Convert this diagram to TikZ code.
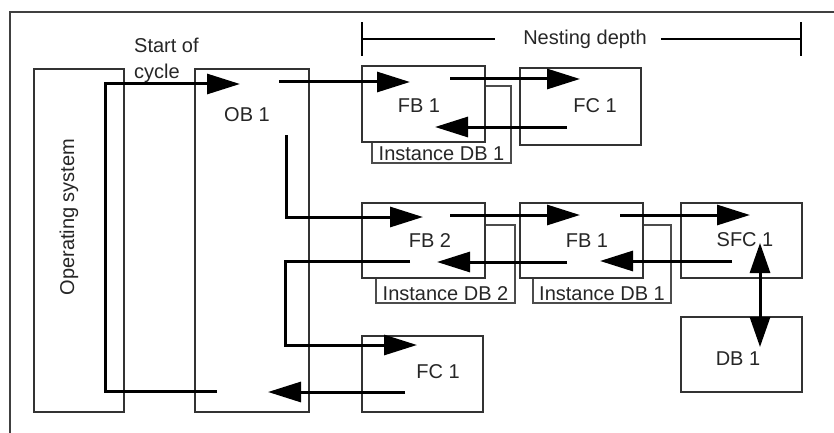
\documentclass[tikz,border=0pt]{standalone}
\usepackage{fontspec}
\setmainfont{Liberation Sans}
\usetikzlibrary{arrows.meta,positioning}

\begin{document}
\begin{tikzpicture}[x=1pt,y=-1pt,
    blk/.style={draw=black!80, line width=1.4pt, fill=white, inner sep=0pt},
    inst/.style={draw=black!70, line width=1.4pt, fill=white, inner sep=0pt},
    lbl/.style={font=\fontsize{20}{26}\selectfont, text=black!85, inner sep=0pt},
    flow/.style={line width=3pt, line join=miter, -{Triangle[length=33pt,width=20pt]}},
    dbl/.style={line width=3pt, {Triangle[length=30pt,width=20pt]}-{Triangle[length=30pt,width=20pt]}},
    depth/.style={line width=2pt}]
    \useasboundingbox (0,0) rectangle (834,433);
    % frame
    \draw[line width=1.5pt, black!75] (834,12) -- (10,12) -- (10,433);
    % blocks
    \node[blk, minimum width=90pt, minimum height=343pt] (os) at (79,240.5) {};
    \node[blk, minimum width=114pt, minimum height=343pt] (ob1) at (252,240.5) {};
    \node[inst, minimum width=139pt, minimum height=77pt] (idba) at (441.5,124.5) {};
    \node[blk, minimum width=123pt, minimum height=76pt] (fb1a) at (423.5,104) {};
    \node[blk, minimum width=121pt, minimum height=77pt] (fc1a) at (580.5,106.5) {};
    \node[inst, minimum width=139pt, minimum height=78pt] (idbb) at (445.5,264) {};
    \node[blk, minimum width=123pt, minimum height=75pt] (fb2) at (423.5,240.5) {};
    \node[inst, minimum width=138pt, minimum height=78pt] (idbc) at (602,264) {};
    \node[blk, minimum width=123pt, minimum height=75pt] (fb1b) at (581.5,240.5) {};
    \node[blk, minimum width=121pt, minimum height=75pt] (sfc1) at (741.5,240.5) {};
    \node[blk, minimum width=121pt, minimum height=75pt] (db1) at (741.5,354.5) {};
    \node[blk, minimum width=121pt, minimum height=76pt] (fc1b) at (422.5,374) {};
    % texts
    \node[lbl, rotate=90] (ostxt) at (69,217) {Operating system};
    \node[lbl, align=left, anchor=north west] (start) at (134,38) {Start of\\cycle};
    \node[lbl] (ob1txt) at (247,115) {OB 1};
    \node[lbl] (fb1atxt) at (419,106) {FB 1};
    \node[lbl] (fc1atxt) at (595,106) {FC 1};
    \node[lbl] (fb2txt) at (430,241) {FB 2};
    \node[lbl] (fb1btxt) at (587,241) {FB 1};
    \node[lbl] (sfc1txt) at (745,240) {SFC 1};
    \node[lbl] (db1txt) at (738,359) {DB 1};
    \node[lbl] (fc1btxt) at (438,372) {FC 1};
    \node[lbl, anchor=south, inner sep=3pt] (idbatxt) at (idba.south) {Instance DB 1};
    \node[lbl, anchor=south, inner sep=3pt] (idbbtxt) at (idbb.south) {Instance DB 2};
    \node[lbl, anchor=south, inner sep=3pt] (idbctxt) at (idbc.south) {Instance DB 1};
    % nesting depth
    \coordinate (ndl) at (362,39);
    \coordinate (ndr) at (801,39);
    \node[lbl] (nd) at (585,39) {Nesting depth};
    \draw[depth] ([yshift=-17pt]ndl) -- ([yshift=17pt]ndl);
    \draw[depth] ([yshift=-17pt]ndr) -- ([yshift=17pt]ndr);
    \draw[depth] (ndl) -- ([xshift=-28pt]nd.west);
    \draw[depth] ([xshift=14pt]nd.east) -- (ndr);
    % flow points
    \coordinate (cyc0) at (217,391);
    \coordinate (cyc1) at (105,391);
    \coordinate (cyc2) at (105,84);
    \coordinate (cyc3) at (240,84);
    \coordinate (a1) at (279,82);   \coordinate (a2) at (410,82);
    \coordinate (b1) at (450,79);   \coordinate (b2) at (580,79);
    \coordinate (c1) at (567,127);  \coordinate (c2) at (435,127);
    \coordinate (d1) at (286,135);  \coordinate (d2) at (286,217);
    \coordinate (d3) at (423,217);
    \coordinate (e1) at (450,215);  \coordinate (e2) at (580,215);
    \coordinate (f1) at (620,215);  \coordinate (f2) at (750,215);
    \coordinate (g1) at (732,261);  \coordinate (g2) at (600,261);
    \coordinate (h1) at (567,262);  \coordinate (h2) at (437,262);
    \coordinate (k1) at (410,261);  \coordinate (k2) at (285,261);
    \coordinate (k3) at (285,345);  \coordinate (k4) at (417,345);
    \coordinate (m1) at (405,392);  \coordinate (m2) at (268,392);
    \coordinate (s1) at (760,243);  \coordinate (s2) at (760,347);
    % flows
    \draw[flow] (cyc0) -- (cyc1) -- (cyc2) -- (cyc3);
    \draw[flow] (a1) -- (a2);
    \draw[flow] (b1) -- (b2);
    \draw[flow] (c1) -- (c2);
    \draw[flow] (d1) -- (d2) -- (d3);
    \draw[flow] (e1) -- (e2);
    \draw[flow] (f1) -- (f2);
    \draw[flow] (g1) -- (g2);
    \draw[flow] (h1) -- (h2);
    \draw[flow] (k1) -- (k2) -- (k3) -- (k4);
    \draw[flow] (m1) -- (m2);
    \draw[dbl] (s1) -- (s2);
\end{tikzpicture}
\end{document}
